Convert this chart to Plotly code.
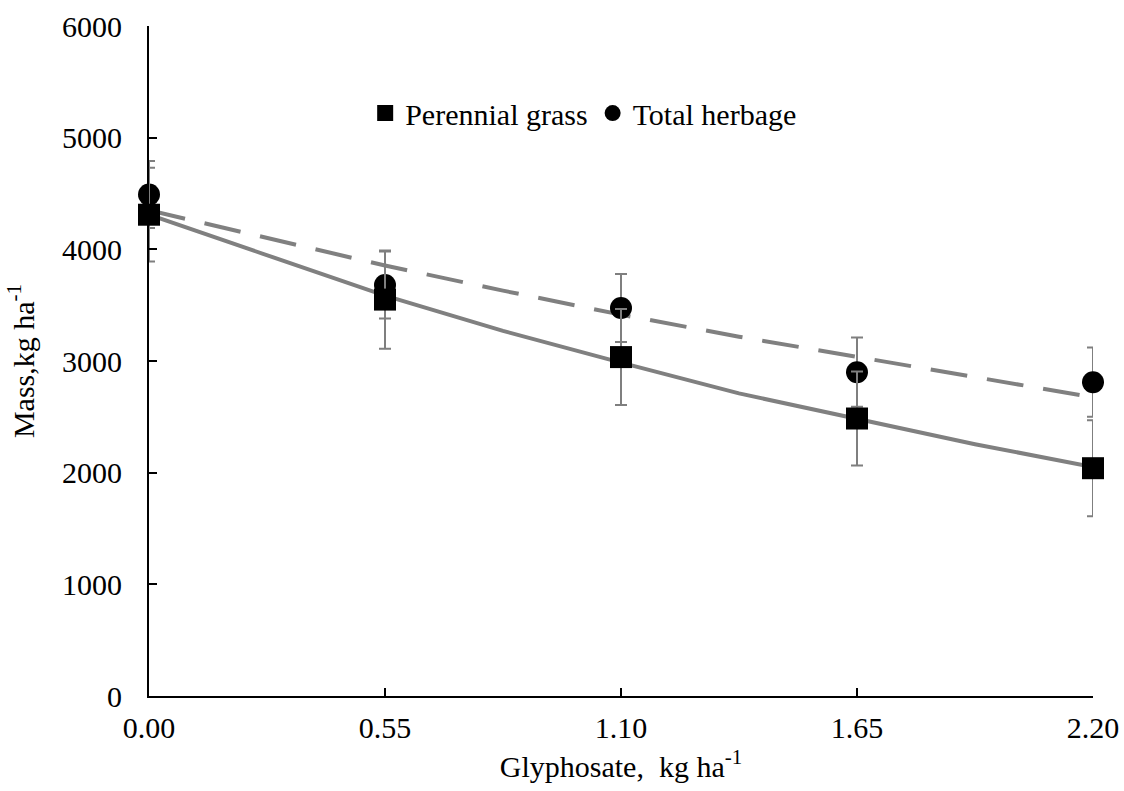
import plotly.graph_objects as go

# Data
glyphosate = [0.00, 0.55, 1.10, 1.65, 2.20]
tick_text = ["0.00", "0.55", "1.10", "1.65", "2.20"]

perennial_grass = [4310, 3550, 3035, 2485, 2040]
perennial_err = [420, 440, 430, 420, 430]

total_herbage = [4490, 3680, 3475, 2900, 2810]
total_err = [300, 300, 305, 310, 310]

# Fitted curves
fit_x = [0.0, 0.275, 0.55, 0.825, 1.10, 1.375, 1.65, 1.925, 2.20]
fit_perennial = [4310, 3950, 3585, 3270, 2985, 2710, 2480, 2255, 2050]
fit_total = [4350, 4100, 3855, 3630, 3415, 3218, 3035, 2852, 2675]

FONT = "Liberation Serif, Times New Roman, serif"
GRAY = "#808080"
FS = 30

fig = go.Figure()

fig.add_trace(go.Scatter(
    x=fit_x, y=fit_total, mode="lines", showlegend=False, hoverinfo="skip",
    line=dict(color=GRAY, width=4, dash="37px,20px"), cliponaxis=False))
fig.add_trace(go.Scatter(
    x=fit_x, y=fit_perennial, mode="lines", showlegend=False, hoverinfo="skip",
    line=dict(color=GRAY, width=4), cliponaxis=False))

fig.add_trace(go.Scatter(
    x=glyphosate, y=total_herbage, mode="markers", name="Total herbage",
    legendrank=2,
    marker=dict(symbol="circle", size=22, color="black", line=dict(width=0)),
    error_y=dict(type="data", array=total_err, visible=True,
                 color="#7f7f7f", thickness=2, width=6),
    cliponaxis=False))
fig.add_trace(go.Scatter(
    x=glyphosate, y=perennial_grass, mode="markers", name="Perennial grass",
    legendrank=1,
    marker=dict(symbol="square", size=22, color="black", line=dict(width=0)),
    error_y=dict(type="data", array=perennial_err, visible=True,
                 color="#7f7f7f", thickness=2, width=6),
    cliponaxis=False))

fig.update_layout(
    width=1124, height=791,
    margin=dict(l=149, r=31, t=26, b=95),
    paper_bgcolor="white", plot_bgcolor="white",
    font=dict(family=FONT, size=FS, color="black"),
    showlegend=True,
    legend=dict(orientation="h", x=0.229, y=0.87, xanchor="left", yanchor="middle",
                font=dict(family=FONT, size=FS, color="black"),
                bgcolor="rgba(0,0,0,0)", itemclick=False, traceorder="normal"),
    xaxis=dict(
        range=[0, 2.2], tickvals=glyphosate, ticktext=tick_text, automargin=False,
        showgrid=False, zeroline=False, showline=True, linecolor="black", linewidth=2,
        ticks="inside", ticklen=8, tickwidth=2, tickcolor="black",
        ticklabelstandoff=4,
        tickfont=dict(family=FONT, size=FS, color="black"),
        title=dict(text="Glyphosate,  kg ha<sup>-1</sup>", standoff=13,
                   font=dict(family=FONT, size=FS, color="black")),
    ),
    yaxis=dict(
        range=[0, 6000], tickvals=[0, 1000, 2000, 3000, 4000, 5000, 6000],
        automargin=False,
        showgrid=False, zeroline=False, showline=True, linecolor="black", linewidth=2,
        ticks="inside", ticklen=8, tickwidth=2, tickcolor="black",
        ticklabelstandoff=19,
        tickfont=dict(family=FONT, size=FS, color="black"),
        title=dict(text="Mass,kg ha<sup>-1</sup>", standoff=19,
                   font=dict(family=FONT, size=FS, color="black")),
    ),
)

fig.write_html("out.html",
               config={"displayModeBar": False},
               post_script="document.body.style.margin='0';document.body.style.overflow='hidden';")
